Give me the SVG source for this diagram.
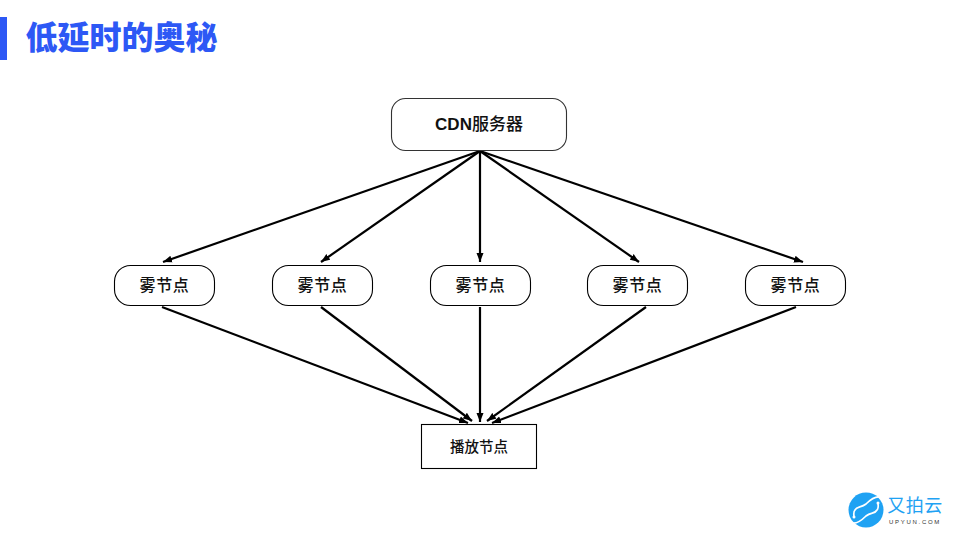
<svg xmlns="http://www.w3.org/2000/svg" width="960" height="540" viewBox="0 0 960 540">
<style>
text{font-family:"Liberation Sans","Noto Sans CJK SC",sans-serif;text-anchor:middle;font-weight:700;fill:#111}
.cn{font-family:"Noto Sans CJK SC",sans-serif}
.box{fill:#fff;stroke:#000;stroke-width:1.1}
.fog{font-size:16px;letter-spacing:.7px;font-weight:500}
#connectors line{stroke:#000;stroke-width:2.200;marker-end:url(#ah)}
</style>
<defs>
<marker id="ah" markerUnits="userSpaceOnUse" markerWidth="10" markerHeight="8" refX="9" refY="4" orient="auto"><path d="M0 0.500L9 4L0 7.500Z" fill="#000"/></marker>
</defs>
<rect width="960" height="540" fill="#fff"/>
<g id="title">
<rect x="0" y="17" width="7" height="43" fill="#2d58f5"/>
<text class="cn" x="121.500" y="49" font-size="32" style="fill:#2d58f5;font-weight:900">低延时的奥秘</text>
</g>
<g id="connectors">
<line x1="480" y1="151" x2="163" y2="262"/>
<line x1="480" y1="151" x2="321" y2="262"/>
<line x1="480" y1="151" x2="480" y2="262"/>
<line x1="480" y1="151" x2="639" y2="262"/>
<line x1="480" y1="151" x2="803" y2="262"/>
<line x1="162" y1="307" x2="468" y2="423"/>
<line x1="321" y1="307" x2="472" y2="421"/>
<line x1="480" y1="307" x2="480" y2="422"/>
<line x1="646" y1="307" x2="487" y2="421"/>
<line x1="796" y1="307" x2="492" y2="423"/>
</g>
<g id="cdn">
<rect class="box" style="stroke:#333" x="391.500" y="98.500" width="175" height="52" rx="14"/>
<text x="479" y="130" font-size="17" style="font-weight:700">CDN<tspan class="cn" style="font-weight:500">服务器</tspan></text>
</g>
<g id="fog1"><rect class="box" x="114.500" y="265.500" width="100" height="40" rx="16"/><text class="cn fog" x="164.500" y="291">雾节点</text></g>
<g id="fog2"><rect class="box" x="272.500" y="265.500" width="100" height="40" rx="16"/><text class="cn fog" x="322.500" y="291">雾节点</text></g>
<g id="fog3"><rect class="box" x="430.500" y="265.500" width="100" height="40" rx="16"/><text class="cn fog" x="480.500" y="291">雾节点</text></g>
<g id="fog4"><rect class="box" x="587.500" y="265.500" width="100" height="40" rx="16"/><text class="cn fog" x="637.500" y="291">雾节点</text></g>
<g id="fog5"><rect class="box" x="745.500" y="265.500" width="100" height="40" rx="16"/><text class="cn fog" x="795.500" y="291">雾节点</text></g>
<g id="player">
<rect class="box" x="421.500" y="424.500" width="115" height="44"/>
<text class="cn" x="479" y="452" font-size="14.500" style="font-weight:500">播放节点</text>
</g>
<g id="logo">
<circle cx="866" cy="510" r="17.500" fill="#1fa2f3"/>
<path d="M852 523C857 524 862 520 866 516C871 512 875 514 877 510C879 508 878 505 878 503" fill="none" stroke="#fff" stroke-width="1.700" stroke-linecap="round"/>
<path d="M880 497C875 496 870 500 866 504C861 508 857 506 855 510C853 512 854 515 854 517" fill="none" stroke="#fff" stroke-width="1.700" stroke-linecap="round"/>
<circle cx="878" cy="503" r="1.500" fill="#fff"/>
<circle cx="854" cy="517" r="1.500" fill="#fff"/>
<text class="cn" x="915" y="512" font-size="18" style="fill:#1fa2f3;font-weight:400;letter-spacing:.5px">又拍云</text>
<text x="915" y="524" font-size="6" style="fill:#333;font-weight:400;letter-spacing:1.700px">UPYUN.COM</text>
</g>
</svg>
